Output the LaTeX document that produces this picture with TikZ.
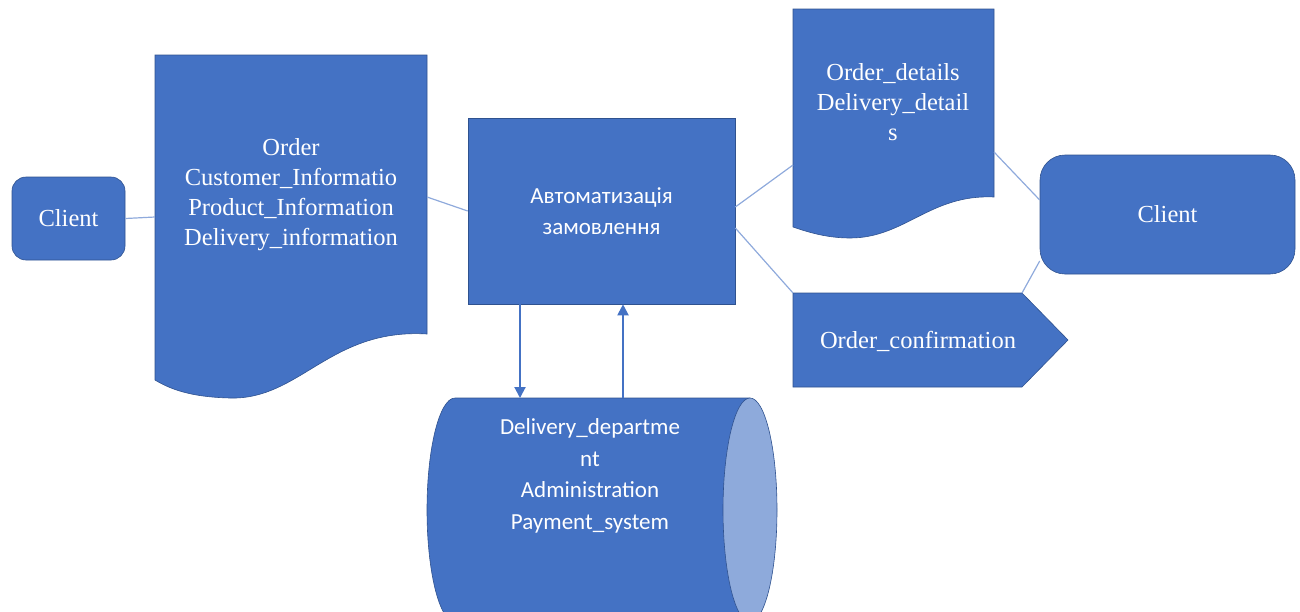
\documentclass[tikz,border=0pt]{standalone}
\usepackage{fontspec}
\setmainfont{Liberation Serif}
\newfontfamily\uifont{Carlito}
\usetikzlibrary{arrows.meta}
\definecolor{boxblue}{HTML}{4472C4}
\definecolor{edgeblue}{HTML}{2F528F}
\definecolor{linkblue}{HTML}{8FAADC}
\definecolor{capblue}{HTML}{8EAADB}
\tikzset{
  shapefill/.style={fill=boxblue, draw=edgeblue, line width=0.6pt},
  seriftext/.style={text=white, align=center, font=\fontsize{24.5}{30}\selectfont},
  sanstext/.style={text=white, align=center, font=\uifont\fontsize{23}{31.5}\selectfont},
  link/.style={draw=linkblue, line width=1.2pt},
  flow/.style={draw=boxblue, line width=2pt, -{Triangle[length=11pt,width=11pt]}},
}
\begin{document}
\begin{tikzpicture}[x=1pt,y=-1pt]
\useasboundingbox (0,0) rectangle (1300,611);
\begin{scope}
\clip (0,0) rectangle (1300,611);

% client on the left
\node[shapefill, rounded corners=14pt, minimum width=113pt, minimum height=83pt,
      seriftext] (clientL) at (68.5,218.5) {Client};

% order document
\draw[shapefill] (155,55) -- (427,55) -- (427,334)
  .. controls (330,328) and (300,400) .. (230,398)
  .. controls (190,397) and (170,389) .. (155,380) -- cycle;
\node[seriftext] (orderdoc) at (291,195)
  {Order\\Customer\_Informatio\\Product\_Information\\Delivery\_information};
\coordinate (orderW) at (155,217);
\coordinate (orderE) at (427,197);

% central process
\node[shapefill, minimum width=267pt, minimum height=186pt, sanstext]
  (proc) at (601.5,211) {Автоматизація\\замовлення};

% details document
\draw[shapefill] (793,9) -- (994,9) -- (994,197)
  .. controls (930,194) and (905,238) .. (850,238)
  .. controls (825,238) and (805,231) .. (793,227) -- cycle;
\node[seriftext] (details) at (893,102)
  {Order\_details\\Delivery\_detail\\s};
\coordinate (detailsW) at (793,165);
\coordinate (detailsE) at (994,152);

% client on the right
\node[shapefill, rounded corners=25pt, minimum width=255pt, minimum height=119pt,
      seriftext] (clientR) at (1167.5,214.5) {Client};

% confirmation off-page shape
\draw[shapefill] (793,293) -- (1022,293) -- (1068,340) -- (1022,387) -- (793,387) -- cycle;
\node[seriftext] (confirm) at (918,341) {Order\_confirmation};
\coordinate (confirmNW) at (793,293);
\coordinate (confirmTop) at (1022,293);

% storage cylinder
\draw[shapefill] (455,398) -- (750,398) -- (750,622) -- (455,622)
  arc[start angle=90, end angle=270, x radius=28, y radius=112] -- cycle;
\draw[shapefill, fill=capblue] (750,510) ellipse[x radius=27, y radius=112];
\node[sanstext] (store) at (590,476)
  {Delivery\_departme\\nt\\Administration\\Payment\_system};
\coordinate (storeA) at (520,398);
\coordinate (storeB) at (623,398);

% connectors
\draw[link] (clientL.east) -- (orderW);
\draw[link] (orderE) -- (proc.west);
\draw[link] (proc.east |- 0,207) -- (detailsW);
\draw[link] (proc.east |- 0,228) -- (confirmNW);
\draw[link] (detailsE) -- (clientR.west |- 0,200);
\draw[link] (clientR.west |- 0,261) -- (confirmTop);
\draw[flow] (proc.south -| storeA) -- (storeA);
\draw[flow] (storeB) -- (proc.south -| storeB);
\end{scope}
\end{tikzpicture}
\end{document}
